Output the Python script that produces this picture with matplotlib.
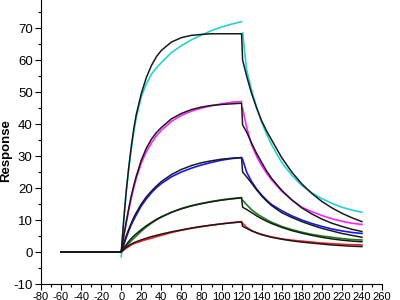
import matplotlib
matplotlib.use("Agg")
import matplotlib.pyplot as plt
from matplotlib.ticker import MultipleLocator

plt.rcParams['font.family'] = ['Liberation Sans Narrow', 'DejaVu Sans Condensed', 'Liberation Sans', 'DejaVu Sans']
plt.rcParams['axes.unicode_minus'] = False

# baseline
t_base = [-60, 0]
base = [0, 0]

# association phase
t_assoc = [0, 2.5, 5, 7.5, 10, 12.5, 15, 20, 25, 30, 35, 40, 50, 60, 70, 80, 90, 100, 110, 120]
cyan_a = [-1.5, 10, 19, 26, 32, 37.5, 42, 48.5, 52.5, 55.5, 57.5, 59.2, 62.3, 64.5, 66.3, 67.8, 69.2, 70.3, 71.2, 72]
magenta_a = [0, 4.7, 9, 13, 16.8, 20, 23, 27.8, 31.3, 34, 36.3, 38, 40.8, 42.7, 44, 45, 45.7, 46.3, 46.8, 47]
blue_a = [0, 2.3, 4.5, 6.6, 8.5, 10.1, 11.6, 14.4, 16.6, 18.5, 20.1, 21.4, 23.5, 25, 26.2, 27.2, 28, 28.7, 29.2, 29.5]
green_a = [0, 0.9, 1.8, 2.7, 3.5, 4.3, 5, 6.5, 7.8, 9, 10, 10.9, 12.4, 13.6, 14.5, 15.2, 15.8, 16.3, 16.7, 17]
red_a = [0, 0.6, 1.2, 1.7, 2.2, 2.6, 2.9, 3.4, 3.9, 4.3, 4.8, 5.2, 6.1, 6.8, 7.4, 7.9, 8.4, 8.8, 9.2, 9.5]

fit_cyan_a = [0, 10, 19, 26.5, 33, 38.5, 43, 49.5, 54.5, 58.2, 61, 63, 65.6, 67, 67.7, 68, 68.2, 68.2, 68.2, 68.2]
fit_magenta_a = [0, 5, 9.5, 13.7, 17.5, 20.8, 23.7, 28.7, 32.4, 35.2, 37.3, 38.9, 41.6, 43.3, 44.5, 45.3, 45.8, 46.1, 46.3, 46.5]
fit_blue_a = [0, 2.6, 5, 7.1, 9, 10.8, 12.3, 15, 17.2, 19, 20.6, 22, 24.2, 25.8, 27, 27.9, 28.5, 29, 29.3, 29.5]
fit_green_a = [0, 1.2, 2.3, 3.3, 4.2, 5, 5.7, 7, 8.2, 9.2, 10.2, 11, 12.4, 13.5, 14.4, 15.1, 15.7, 16.2, 16.6, 16.9]
fit_red_a = [0, 0.8, 1.5, 2, 2.5, 2.9, 3.2, 3.8, 4.3, 4.8, 5.2, 5.6, 6.3, 6.9, 7.5, 8, 8.4, 8.8, 9.1, 9.4]

# dissociation phase
t_diss = [121, 125, 130, 135, 140, 145, 150, 160, 170, 180, 190, 200, 210, 220, 230, 240]
cyan_d = [68.5, 57, 50.5, 45.2, 40.5, 36.8, 33.5, 28, 24, 20.8, 18.5, 16.7, 15.2, 14, 13.1, 12.4]
magenta_d = [45, 39, 33.5, 29.9, 27, 24.6, 22.5, 19, 16.3, 14, 12.6, 11.4, 10.4, 9.6, 9, 8.6]
blue_d = [29, 25, 22, 19.7, 17.8, 16.2, 14.8, 12.9, 11.3, 10, 8.9, 8, 7.2, 6.6, 6.1, 5.8]
green_d = [16.2, 14.8, 13.2, 12, 11, 10.1, 9.3, 8, 7, 6.2, 5.5, 5, 4.6, 4.2, 3.9, 3.75]
red_d = [9, 7.7, 6.7, 6, 5.5, 5.1, 4.7, 4.1, 3.7, 3.4, 3.1, 2.8, 2.6, 2.4, 2.3, 2.2]

fit_cyan_d = [60, 55, 49.5, 45, 41, 37.8, 35, 29.5, 25, 21.3, 18.3, 15.8, 13.8, 12.1, 10.7, 9.5]
fit_magenta_d = [39.7, 37.5, 34, 30.8, 28, 25.3, 23, 19.3, 16.3, 13.8, 11.9, 10.3, 9, 8, 7.1, 6.4]
fit_blue_d = [25, 23.5, 21.5, 19.4, 17.5, 15.9, 14.5, 12.3, 10.8, 9.5, 8.4, 7.4, 6.6, 5.8, 5.2, 4.6]
fit_green_d = [14, 13.3, 12.3, 11.3, 10.4, 9.6, 8.9, 7.7, 6.7, 5.9, 5.2, 4.6, 4.1, 3.7, 3.4, 3.2]
fit_red_d = [8, 7.4, 6.6, 6, 5.4, 5, 4.6, 4, 3.5, 3.1, 2.8, 2.5, 2.2, 2, 1.8, 1.7]

colors = ['#22D3D3', '#FF22FF', '#1515FF', '#1A7F1A', '#FF1A1A']
obs_a = [cyan_a, magenta_a, blue_a, green_a, red_a]
obs_d = [cyan_d, magenta_d, blue_d, green_d, red_d]
fit_a = [fit_cyan_a, fit_magenta_a, fit_blue_a, fit_green_a, fit_red_a]
fit_d = [fit_cyan_d, fit_magenta_d, fit_blue_d, fit_green_d, fit_red_d]

fig = plt.figure(figsize=(4, 3), dpi=100)
ax = fig.add_axes([0.1025, 0.0533, 0.8525, 0.9467])

for c, a, d in zip(colors, obs_a, obs_d):
    ax.plot(t_base, base, color=c, lw=1.2)
    ax.plot(t_assoc, a, color=c, lw=1.2)
    ax.plot(t_diss, d, color=c, lw=1.2)

for a, d in zip(fit_a, fit_d):
    ax.plot(t_base + t_assoc + t_diss, base + a + d, color='#1a1a1a', lw=1.1)

ax.set_xlim(-80, 260)
ax.set_ylim(-10, 78.75)
ax.xaxis.set_major_locator(MultipleLocator(20))
ax.xaxis.set_minor_locator(MultipleLocator(10))
ax.yaxis.set_major_locator(MultipleLocator(10))
ax.yaxis.set_minor_locator(MultipleLocator(5))
ax.spines['top'].set_visible(False)
ax.spines['right'].set_visible(False)
ax.tick_params(which='major', direction='out', length=4, width=0.8, pad=2)
ax.tick_params(axis='y', which='major', labelsize=9.5)
ax.tick_params(axis='x', which='major', labelsize=8)
ax.tick_params(which='minor', direction='out', length=2, width=0.8)
ax.set_ylabel('Response', fontsize=9.5, fontweight='bold')
ax.yaxis.set_label_coords(-0.085, 0.47)

fig.savefig('out.png', dpi=100)
